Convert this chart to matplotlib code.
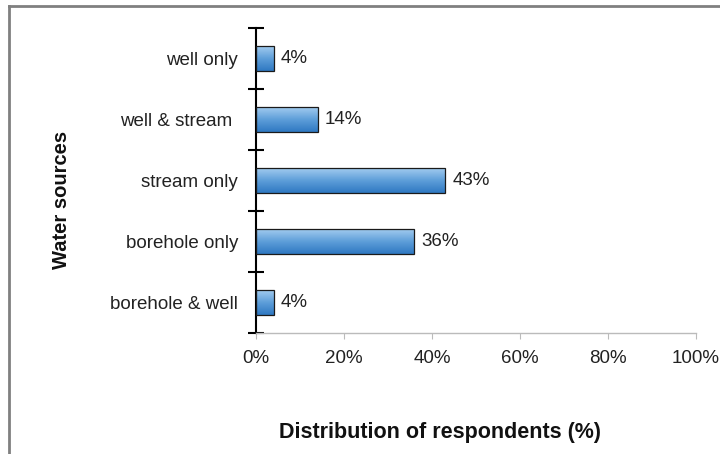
import numpy as np
import matplotlib
matplotlib.use("Agg")
import matplotlib.pyplot as plt
from matplotlib.colors import LinearSegmentedColormap
from matplotlib.lines import Line2D

plt.rcParams['font.family'] = ['Liberation Sans', 'DejaVu Sans']

# data (top to bottom as in the picture)
sources = ["well only", "well & stream ", "stream only", "borehole only", "borehole & well"]
shares = [4, 14, 43, 36, 4]
xticks = [0, 20, 40, 60, 80, 100]

fig = plt.figure(figsize=(7.2, 4.54), dpi=100)
ax = fig.add_axes([0.3556, 0.2665, 0.6111, 0.6718])

ypos = np.arange(len(sources))[::-1]
bars = ax.barh(ypos, shares, height=0.4, color='none', edgecolor='#1a1a1a',
               linewidth=0.9, zorder=3)

# gradient fill inside each bar
cmap = LinearSegmentedColormap.from_list('blu', ['#2f78c2', '#5d9ed9', '#a2cbef'])
grad = np.linspace(0, 1, 100).reshape(-1, 1)
for b in bars:
    x0, y0 = b.get_x(), b.get_y()
    w, h = b.get_width(), b.get_height()
    im = ax.imshow(grad, extent=[x0, x0 + w, y0, y0 + h], origin='lower',
                   aspect='auto', cmap=cmap, zorder=2)
    im.set_clip_path(b)
    ax.text(x0 + w + 1.6, y0 + h / 2, f"{w}%", va='center', ha='left',
            fontsize=13.5, color='#222222')

ax.set_xlim(0, 100)
ax.set_ylim(-0.5, len(sources) - 0.5)

ax.set_xticks(xticks)
ax.set_xticklabels([f"{t}%" for t in xticks], fontsize=13.5, color='#222222')
ax.tick_params(axis='x', length=4, color='#bbbbbb', pad=8)

# boundaries as major ticks, labels on minor ticks
ax.set_yticks(np.arange(len(sources) + 1) - 0.5)
ax.set_yticklabels([])
ax.tick_params(axis='y', which='major', direction='inout', length=12,
               width=1.5, color='black')
ax.set_yticks(ypos, minor=True)
ax.set_yticklabels(sources, minor=True, fontsize=13.5, color='#222222')
ax.tick_params(axis='y', which='minor', length=0, pad=13)

for s in ['top', 'right']:
    ax.spines[s].set_visible(False)
ax.spines['left'].set_color('black')
ax.spines['left'].set_linewidth(1.5)
ax.spines['bottom'].set_color('#bbbbbb')
ax.spines['bottom'].set_linewidth(1.0)

fig.text(0.611, 0.048, "Distribution of respondents (%)", ha='center',
         va='center', fontsize=15.5, fontweight='bold', color='#111111')
fig.text(0.085, 0.56, "Water sources", ha='center', va='center',
         rotation=90, fontsize=14.5, fontweight='bold', color='#111111')

# frame lines on top and left like the source picture
fig.add_artist(Line2D([9 / 720, 1], [1 - 6 / 454, 1 - 6 / 454],
                      transform=fig.transFigure, color='#808080', lw=2))
fig.add_artist(Line2D([9 / 720, 9 / 720], [0, 1 - 6 / 454],
                      transform=fig.transFigure, color='#808080', lw=2))

plt.savefig('out.png', dpi=100)
